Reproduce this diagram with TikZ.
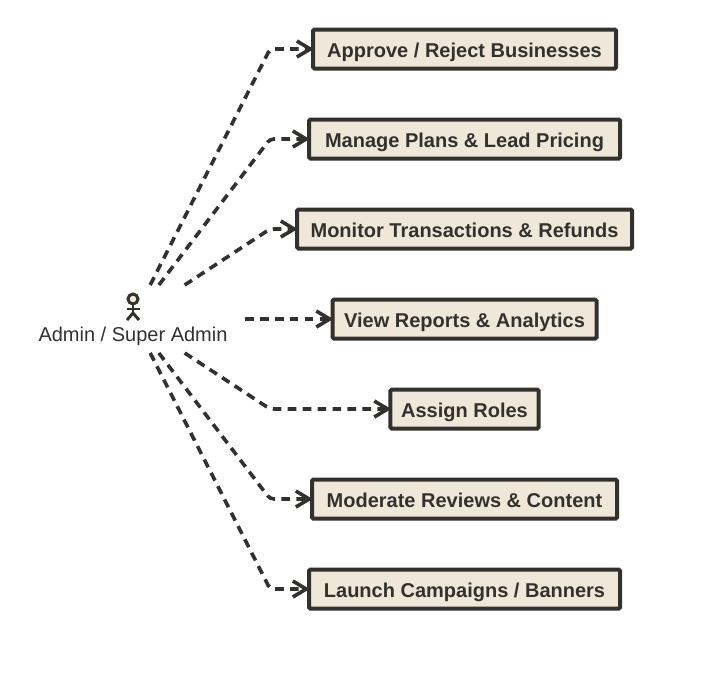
\documentclass[tikz,border=0pt]{standalone}
\usepackage{fontspec}
\setmainfont{Liberation Sans}
\usetikzlibrary{positioning, arrows.meta}
\definecolor{inkdark}{HTML}{33312E}
\definecolor{boxfill}{HTML}{EFE8D8}
\tikzset{
    %Define standard arrow tip
    >={Straight Barb[length=10pt,width=12pt,line width=2.7pt]},
    %Define style for boxes
    usecase/.style={
           rectangle,
           rounded corners=1pt,
           draw=inkdark, line width=3pt,
           fill=boxfill,
           inner xsep=8pt,
           minimum height=29.25pt,
           text height=12.5pt,
           text depth=0.5pt,
           text=inkdark,
           font=\fontsize{15}{18}\selectfont\bfseries},
    % Define arrow style
    lien/.style={
           ->,
           draw=inkdark,
           line width=2.7pt,
           rounded corners=3pt,
           shorten >=-2pt,
           dash pattern=on 6.5pt off 4.7pt},
    % Define style for the stick figure
    stick/.style={draw=inkdark, line width=2.2pt}
}
\begin{document}
\begin{tikzpicture}[x=0.75pt, y=-0.75pt, node distance=35.25pt]
	\useasboundingbox (0,0) rectangle (720,682);
	%
	% noeuds
	%
	\node[usecase, minimum width=227.25pt] (approve) at (464.5,49) {Approve / Reject Businesses};
	\node[usecase, minimum width=233.25pt, below = of approve] (plans) {Manage Plans \& Lead Pricing};
	\node[usecase, minimum width=251.25pt, below = of plans] (monitor) {Monitor Transactions \& Refunds};
	\node[usecase, minimum width=198pt, below = of monitor] (reports) {View Reports \& Analytics};
	\node[usecase, minimum width=111pt, below = of reports] (roles) {Assign Roles};
	\node[usecase, minimum width=228.75pt, below = of roles] (reviews) {Moderate Reviews \& Content};
	\node[usecase, minimum width=233.25pt, below = of reviews] (banners) {Launch Campaigns / Banners};
	%
	% acteur
	%
	\node[minimum width=168pt, minimum height=51pt, inner sep=0pt, outer sep=0pt] (admin) at (133,319) {};
	\node[text=inkdark, font=\fontsize{15}{18}\selectfont, inner sep=0pt] (adminlabel) at (133,336) {Admin / Super Admin};
	\node[circle, stick, fill=boxfill, minimum size=7.5pt, inner sep=0pt] (head) at (133,299) {};
	\coordinate (hips) at (133,313);
	\coordinate (armleft) at (126.5,309);
	\coordinate (armright) at (139.5,309);
	\coordinate (footleft) at (127,320);
	\coordinate (footright) at (139,320);
	\draw[stick] (head) -- (hips);
	\draw[stick] (armleft) -- (armright);
	\draw[stick] (footleft) -- (hips) -- (footright);
	%
	% Liens
	%
	\coordinate (coude) at (270,0);
	\coordinate (coudeA) at (coude |- approve.west);
	\coordinate (coudeB) at (coude |- plans.west);
	\coordinate (coudeC) at (coude |- monitor.west);
	\coordinate (coudeE) at (coude |- roles.west);
	\coordinate (coudeF) at (coude |- reviews.west);
	\coordinate (coudeG) at (coude |- banners.west);
	\draw[lien] (admin) -- (coudeA) -- (approve);
	\draw[lien] (admin) -- (coudeB) -- (plans);
	\draw[lien] (admin) -- (coudeC) -- (monitor);
	\draw[lien] (admin) -- (reports);
	\draw[lien] (admin) -- (coudeE) -- (roles);
	\draw[lien] (admin) -- (coudeF) -- (reviews);
	\draw[lien] (admin) -- (coudeG) -- (banners);
\end{tikzpicture}
\end{document}
